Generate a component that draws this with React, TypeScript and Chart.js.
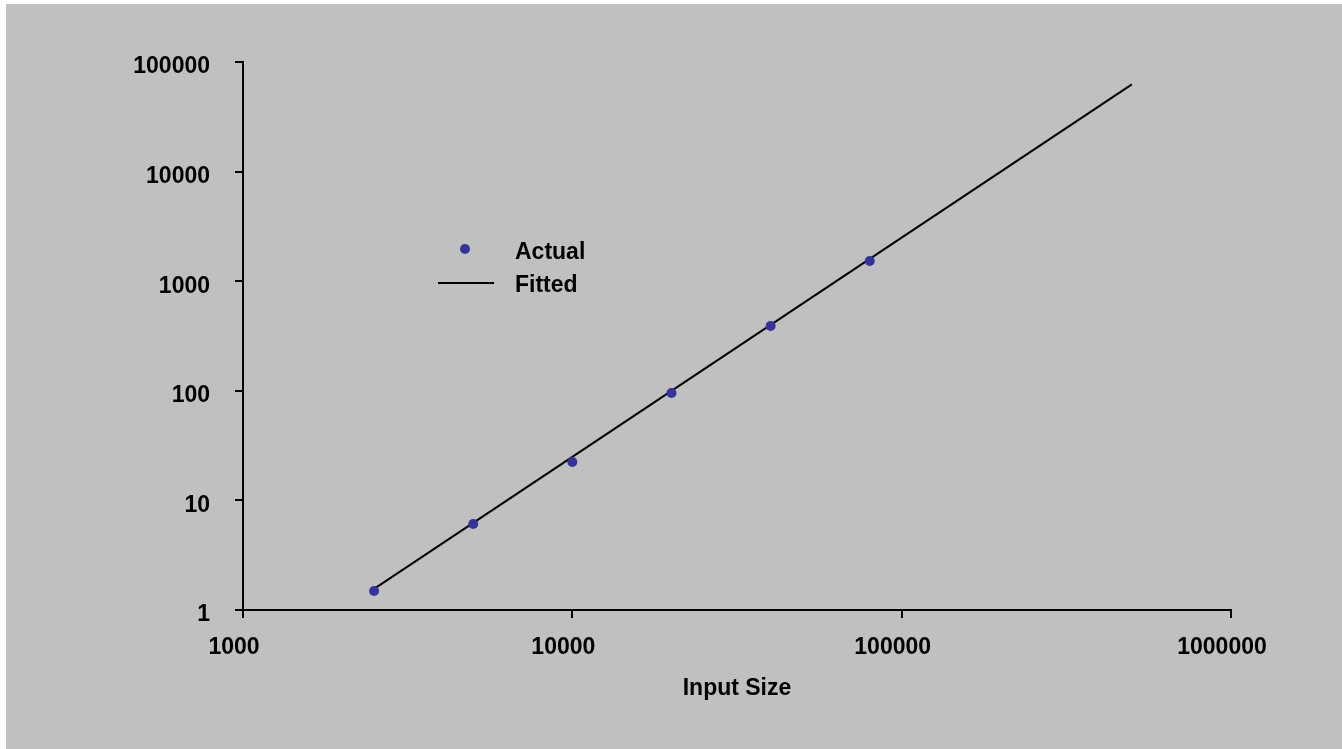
import React, { useEffect, useRef } from "react";
import { Chart, registerables } from "chart.js";

Chart.register(...registerables);

// ---- data ----
const actualX = [2500, 5000, 10000, 20000, 40000, 80000];
const actualY = [1.49, 6.1, 22.4, 95.5, 390, 1530];
const fittedX = [2500, 500000];
const fittedY = [1.56, 62500];
const xTickValues = [1000, 10000, 100000, 1000000];
const yTickValues = [1, 10, 100, 1000, 10000, 100000];
const seriesNames = ["Actual", "Fitted"];
const xTitle = "Input Size";

const FONT_FAMILY = '"Liberation Sans", Arial, Helvetica, sans-serif';
const FONT = { family: FONT_FAMILY, size: 23, weight: "bold" as const, lineHeight: 1.2 };

const customLegend = {
  id: "customLegend",
  afterDraw(chart: any) {
    const ctx = chart.ctx;
    const ds = chart.data.datasets;
    const textRows = [253, 286];
    const markRows = [249, 283];
    ctx.save();
    ctx.font = `bold 23px ${FONT_FAMILY}`;
    ctx.textBaseline = "middle";
    ctx.textAlign = "left";
    ds.forEach((d: any, i: number) => {
      const y = markRows[i];
      if (d.showLine) {
        ctx.strokeStyle = d.borderColor;
        ctx.lineWidth = 2;
        ctx.beginPath();
        ctx.moveTo(438, y);
        ctx.lineTo(494, y);
        ctx.stroke();
      } else {
        ctx.fillStyle = d.pointBackgroundColor;
        ctx.beginPath();
        ctx.arc(465, y, 5, 0, Math.PI * 2);
        ctx.fill();
      }
      ctx.fillStyle = "#000";
      ctx.fillText(d.label, 515, textRows[i]);
    });
    ctx.restore();
  },
};

export default function App() {
  const ref = useRef<HTMLCanvasElement>(null);

  useEffect(() => {
    if (!ref.current) return;
    const chart = new Chart(ref.current, {
      type: "scatter",
      data: {
        datasets: [
          {
            label: seriesNames[0],
            data: actualX.map((x, i) => ({ x, y: actualY[i] })),
            backgroundColor: "#333399",
            borderColor: "#333399",
            pointBackgroundColor: "#333399",
            pointBorderColor: "#333399",
            pointRadius: 5,
            pointBorderWidth: 0,
            showLine: false,
          },
          {
            label: seriesNames[1],
            data: fittedX.map((x, i) => ({ x, y: fittedY[i] })),
            borderColor: "#000000",
            backgroundColor: "#000000",
            borderWidth: 2,
            pointRadius: 0,
            showLine: true,
          },
        ],
      },
      options: {
        responsive: false,
        animation: false,
        layout: { padding: { left: 0, top: 62, right: 111, bottom: 0 } },
        plugins: {
          legend: { display: false },
          tooltip: { enabled: false },
        },
        scales: {
          x: {
            type: "logarithmic",
            min: 1000,
            max: 1000000,
            afterBuildTicks: (scale: any) => {
              scale.ticks = xTickValues.map((v) => ({ value: v }));
            },
            afterFit: (scale: any) => {
              scale.height = 139;
            },
            border: { display: true, color: "#000", width: 2 },
            grid: {
              display: true,
              drawOnChartArea: false,
              drawTicks: true,
              tickLength: 8,
              color: "#000",
              lineWidth: 2,
            },
            ticks: {
              font: FONT,
              color: "#000",
              padding: 16,
              labelOffset: -9,
              maxRotation: 0,
              autoSkip: false,
              callback: (v: any) => String(v),
            },
            title: {
              display: true,
              text: xTitle,
              font: FONT,
              color: "#000",
              padding: { top: 0, bottom: 47 },
            },
          },
          y: {
            type: "logarithmic",
            min: 1,
            max: 100000,
            afterBuildTicks: (scale: any) => {
              scale.ticks = yTickValues.map((v) => ({ value: v }));
            },
            afterFit: (scale: any) => {
              scale.width = 243;
            },
            border: { display: true, color: "#000", width: 2 },
            grid: {
              display: true,
              drawOnChartArea: false,
              drawTicks: true,
              tickLength: 8,
              color: "#000",
              lineWidth: 2,
            },
            ticks: {
              font: FONT,
              color: "#000",
              padding: 25,
              labelOffset: 5,
              autoSkip: false,
              callback: (v: any) => String(v),
            },
          },
        },
      } as any,
      plugins: [customLegend],
    });
    return () => chart.destroy();
  }, []);

  return (
    <div
      style={{
        position: "fixed",
        left: 0,
        top: 0,
        width: 1342,
        height: 749,
        background: "#ffffff",
      }}
    >
      <div
        style={{
          position: "absolute",
          left: 6,
          top: 4,
          right: 0,
          bottom: 0,
          background: "#c0c0c0",
        }}
      />
      <canvas
        ref={ref}
        width={1342}
        height={749}
        style={{ position: "absolute", left: 0, top: 0, display: "block" }}
      />
    </div>
  );
}
